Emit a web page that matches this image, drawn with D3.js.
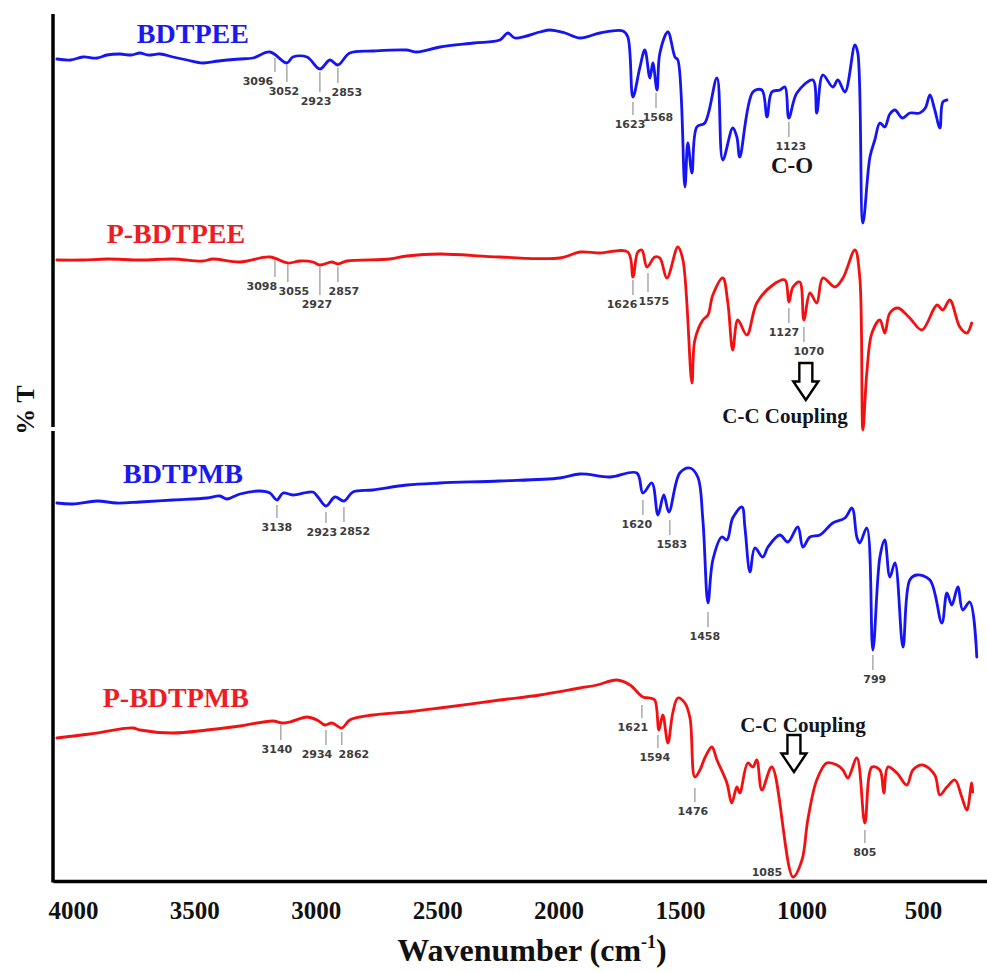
<!DOCTYPE html>
<html>
<head>
<meta charset="utf-8">
<script src="https://cdn.jsdelivr.net/npm/d3@7"></script>
<style>
body { margin: 0; background: #fff; }
#plot-area { width: 987px; height: 972px; }
.trace { fill: none; stroke-width: 2.8; stroke-linejoin: round; stroke-linecap: round; }
.peak-tick { stroke: #a9a9a9; stroke-width: 1.5; }
.peak-label { font-family: "DejaVu Sans", sans-serif; font-weight: bold; font-size: 11px; fill: #3d3d3d; text-anchor: middle; }
.name { font-family: "Liberation Serif", serif; font-weight: bold; font-size: 28px; text-anchor: middle; }
.note { font-family: "Liberation Serif", serif; font-weight: bold; fill: #141420; text-anchor: middle; }
.axis text { font-family: "Liberation Serif", serif; font-weight: bold; font-size: 25px; fill: #111; }
.axis path { stroke: #000; stroke-width: 3.5; }
.label { font-family: "Liberation Serif", serif; font-weight: bold; fill: #111; }
</style>
</head>
<body>
<div id="plot-area"></div>
<script>
// wavenumber ticks (cm-1)
const xTicks = [4000, 3500, 3000, 2500, 2000, 1500, 1000, 500];

const seriesNames = ["BDTPEE", "P-BDTPEE", "BDTPMB", "P-BDTPMB"];

// [wavenumber, %T (stacked, arbitrary offset)]
const bdtpee = [
    [4066, 82.1], [4010, 82.0], [3959, 82.3], [3900, 82.2], [3860, 82.5], [3806, 82.6], [3760, 82.5],
    [3724, 82.7], [3690, 82.5], [3640, 82.6], [3588, 82.3], [3530, 82.0], [3465, 81.7], [3400, 81.9],
    [3312, 82.1], [3259, 82.2], [3189, 82.8], [3119, 81.7], [3094, 82.3], [3036, 82.3], [2983, 81.1],
    [2942, 82.0], [2909, 81.5], [2860, 82.7], [2765, 82.9], [2625, 83.0], [2584, 82.8], [2489, 83.3],
    [2350, 83.7], [2242, 84.0], [2209, 84.7], [2180, 84.2], [2077, 84.8], [2036, 85.0], [1974, 84.7],
    [1912, 84.2], [1830, 84.7], [1735, 84.9], [1715, 84.3], [1694, 78.3], [1665, 81.3], [1645, 83.0],
    [1624, 80.2], [1612, 81.7], [1595, 79.0], [1583, 82.7], [1550, 84.8], [1521, 82.3], [1509, 82.0],
    [1480, 69.3], [1468, 73.7], [1451, 70.7], [1431, 75.3], [1398, 75.7], [1348, 80.2], [1324, 72.0],
    [1283, 75.2], [1266, 74.3], [1254, 72.3], [1200, 78.8], [1163, 79.0], [1142, 76.3], [1122, 78.8],
    [1089, 79.0], [1068, 79.3], [1052, 76.2], [1019, 78.7], [953, 80.0], [937, 76.7], [912, 80.5],
    [871, 79.3], [850, 80.0], [821, 78.8], [780, 83.5], [768, 82.7], [747, 65.7], [718, 72.3],
    [698, 74.0], [677, 75.7], [657, 75.3], [636, 76.6], [615, 77.0], [585, 76.2], [554, 76.7],
    [513, 76.7], [490, 77.2], [471, 78.5], [451, 77.0], [430, 75.2], [418, 77.8], [401, 78.0]
];

const pBdtpee = [
    [4066, 62.0], [3960, 62.0], [3860, 62.1], [3720, 62.0], [3588, 62.1], [3465, 61.9], [3424, 62.1],
    [3312, 61.8], [3189, 62.3], [3115, 61.7], [3065, 61.9], [3012, 61.8], [2983, 61.5], [2934, 61.8],
    [2909, 61.6], [2872, 61.9], [2695, 62.1], [2625, 62.4], [2489, 62.6], [2242, 62.3], [1995, 62.2],
    [1912, 62.8], [1830, 62.7], [1715, 62.8], [1694, 60.3], [1674, 62.8], [1657, 63.0], [1636, 61.3],
    [1604, 62.3], [1583, 62.2], [1554, 60.2], [1509, 63.3], [1488, 62.0], [1451, 49.7], [1439, 54.0],
    [1406, 56.0], [1385, 56.5], [1365, 58.5], [1324, 60.2], [1303, 57.7], [1283, 53.0], [1262, 56.0],
    [1225, 54.5], [1184, 57.7], [1118, 59.5], [1068, 60.0], [1052, 57.8], [1035, 59.3], [1007, 59.8],
    [990, 56.0], [965, 58.7], [937, 57.7], [912, 60.2], [862, 59.3], [829, 60.2], [780, 63.0],
    [760, 60.3], [747, 45.0], [731, 50.7], [710, 54.7], [677, 56.0], [657, 54.7], [636, 56.7],
    [603, 57.2], [554, 56.2], [504, 55.0], [442, 57.5], [418, 57.0], [389, 58.0], [348, 55.3],
    [319, 54.7], [299, 55.7]
];

const bdtpmb = [
    [4066, 37.7], [4000, 37.6], [3901, 37.9], [3820, 37.7], [3724, 37.8], [3588, 38.0], [3448, 38.2],
    [3395, 38.4], [3366, 38.1], [3312, 38.6], [3230, 38.9], [3189, 38.7], [3160, 38.0], [3135, 38.7],
    [3094, 38.5], [3012, 38.8], [2991, 38.3], [2958, 37.4], [2921, 38.3], [2884, 37.9], [2847, 38.8],
    [2765, 39.0], [2625, 39.5], [2489, 39.7], [2242, 39.9], [1995, 40.2], [1912, 40.6], [1789, 40.3],
    [1678, 40.7], [1653, 38.7], [1616, 39.7], [1591, 36.5], [1567, 38.5], [1546, 36.8], [1501, 40.7],
    [1459, 41.2], [1427, 40.3], [1406, 36.0], [1385, 27.7], [1365, 32.0], [1328, 34.3], [1307, 34.0],
    [1283, 36.2], [1245, 37.3], [1233, 35.3], [1212, 30.8], [1192, 33.2], [1159, 32.3], [1138, 33.3],
    [1089, 34.5], [1056, 33.8], [1015, 35.3], [994, 33.3], [965, 34.3], [924, 34.5], [871, 35.7],
    [821, 36.2], [792, 37.2], [772, 34.3], [760, 33.7], [731, 35.2], [706, 23.0], [677, 32.3],
    [657, 34.0], [636, 30.3], [615, 31.7], [582, 23.3], [554, 30.0], [525, 30.5], [471, 30.0],
    [422, 25.7], [401, 28.7], [381, 27.5], [356, 29.3], [336, 27.0], [307, 27.8], [278, 22.3]
];

const pBdtpmb = [
    [4066, 14.2], [3930, 14.6], [3753, 15.2], [3724, 15.0], [3588, 14.7], [3448, 15.0], [3312, 15.4],
    [3177, 15.9], [3139, 15.7], [3107, 15.8], [3036, 16.3], [2995, 16.0], [2962, 15.5], [2934, 15.7],
    [2893, 15.2], [2860, 16.0], [2765, 16.5], [2625, 16.8], [2489, 17.2], [2242, 18.0], [2077, 18.5],
    [1912, 19.2], [1842, 19.5], [1760, 20.0], [1706, 19.5], [1653, 18.3], [1624, 18.2], [1604, 18.0],
    [1587, 15.0], [1571, 16.5], [1550, 13.7], [1530, 16.7], [1509, 18.2], [1480, 17.7], [1459, 16.2],
    [1439, 10.3], [1418, 11.0], [1398, 12.2], [1369, 13.3], [1348, 12.0], [1307, 9.7], [1287, 7.7],
    [1266, 9.3], [1254, 8.7], [1221, 11.7], [1200, 11.3], [1184, 12.0], [1163, 9.0], [1122, 11.3],
    [1035, 0.3], [998, 2.0], [974, 6.0], [937, 10.0], [896, 11.7], [854, 11.5], [829, 11.0],
    [809, 10.2], [772, 12.2], [739, 5.7], [710, 11.3], [677, 11.0], [661, 8.7], [644, 11.3],
    [607, 10.7], [566, 9.5], [541, 11.0], [500, 11.5], [451, 10.5], [430, 8.5], [401, 9.3],
    [368, 10.0], [340, 8.3], [319, 7.0], [299, 9.7], [295, 8.8]
];

// peak marks: [label, tick wavenumber, label wavenumber, tick top, tick bottom]
const bdtpeePeaks = [
    ["3096", 3168, 3238, 82.2, 80.8], ["3052", 3119, 3131, 81.5, 79.8], ["2923", 2983, 2999, 80.8, 78.8],
    ["2853", 2909, 2872, 81.2, 79.7], ["1623", 1694, 1706, 77.8, 76.5], ["1568", 1599, 1591, 78.7, 77.2],
    ["1123", 1052, 1044, 75.8, 74.3]
];
const pBdtpeePeaks = [
    ["3098", 3168, 3222, 62.0, 60.3], ["3055", 3115, 3090, 61.5, 59.8], ["2927", 2983, 2995, 61.3, 58.5],
    ["2857", 2909, 2884, 61.3, 59.8], ["1626", 1694, 1739, 60.0, 58.5], ["1575", 1632, 1608, 60.7, 58.8],
    ["1127", 1052, 1072, 57.2, 55.7], ["1070", 990, 970, 55.3, 53.8]
];
const bdtpmbPeaks = [
    ["3138", 3160, 3160, 37.5, 36.2], ["2923", 2958, 2975, 36.8, 35.7], ["2852", 2884, 2839, 37.3, 35.8],
    ["1620", 1653, 1678, 38.0, 36.5], ["1583", 1542, 1534, 36.0, 34.5], ["1458", 1385, 1398, 26.8, 25.3],
    ["799", 706, 698, 22.5, 21.0]
];
const pBdtpmbPeaks = [
    ["3140", 3144, 3160, 15.5, 14.0], ["2934", 2958, 2995, 15.0, 13.5], ["2862", 2893, 2843, 14.8, 13.5],
    ["1621", 1657, 1694, 17.5, 16.2], ["1594", 1591, 1604, 14.5, 13.2], ["1476", 1439, 1447, 9.2, 7.8],
    ["1085", 1035, 1142, 1.7, 1.7], ["805", 739, 739, 5.0, 3.7]
];

// series name anchors [wavenumber, %T]
const nameAnchors = [[3506, 83.7], [3576, 63.7], [3547, 39.7], [3576, 17.3]];

// assignments: [text, wavenumber, %T baseline]
const notes = [["C-O", 1039, 70.7], ["C-C Coupling", 1068, 45.7], ["C-C Coupling", 994, 14.8]];
// hollow arrows: [wavenumber, top %T, tip %T]
const arrows = [[982, 51.7, 48.0], [1031, 14.5, 10.8]];

const colors = ["#1414f4", "#f41010", "#1414f4", "#f41010"];
const nameColors = ["#1a1af0", "#ee1c24", "#1a1af0", "#ee1c24"];
const noteSizes = [23, 21, 21];

const width = 987, height = 972;

var svg = d3.select("#plot-area").append("svg")
    .attr("width", width)
    .attr("height", height);

const x = d3.scaleLinear().domain([4082, 236]).range([53, 987]);
const y = d3.scaleLinear().domain([0, 86.6]).range([880, 14]);

const line = d3.line()
    .x(function(d) { return x(d[0]); })
    .y(function(d) { return y(d[1]); })
    .curve(d3.curveCatmullRom.alpha(0.5));

// spectra
const series = [bdtpee, pBdtpee, bdtpmb, pBdtpmb];
const peaks = [bdtpeePeaks, pBdtpeePeaks, bdtpmbPeaks, pBdtpmbPeaks];

series.forEach(function(data, i) {
    svg.append("path")
        .datum(data)
        .attr("class", "trace")
        .attr("d", line)
        .style("stroke", colors[i]);
});

// peak ticks and numbers
peaks.forEach(function(list) {
    let g = svg.append("g");
    list.forEach(function(p) {
        if (p[3] !== p[4]) {
            g.append("line")
                .attr("class", "peak-tick")
                .attr("x1", x(p[1])).attr("x2", x(p[1]))
                .attr("y1", y(p[3])).attr("y2", y(p[4]));
        }
        g.append("text")
            .attr("class", "peak-label")
            .attr("x", x(p[2]))
            .attr("y", y(p[4]) + 13)
            .text(p[0]);
    });
});

// series names
seriesNames.forEach(function(name, i) {
    svg.append("text")
        .attr("class", "name")
        .attr("x", x(nameAnchors[i][0]))
        .attr("y", y(nameAnchors[i][1]))
        .style("fill", nameColors[i])
        .text(name);
});

notes.forEach(function(n, i) {
    svg.append("text")
        .attr("class", "note")
        .attr("x", x(n[1]))
        .attr("y", y(n[2]))
        .style("font-size", noteSizes[i] + "px")
        .text(n[0]);
});

arrows.forEach(function(a) {
    let cx = x(a[0]), top = y(a[1]), tip = y(a[2]);
    let head = top + (tip - top) * 0.5;
    let p = d3.path();
    p.moveTo(cx - 6.5, top);
    p.lineTo(cx + 6.5, top);
    p.lineTo(cx + 6.5, head);
    p.lineTo(cx + 12.5, head);
    p.lineTo(cx, tip);
    p.lineTo(cx - 12.5, head);
    p.lineTo(cx - 6.5, head);
    p.closePath();
    svg.append("path")
        .attr("d", p.toString())
        .style("fill", "#fff")
        .style("stroke", "#000")
        .style("stroke-width", 2.4)
        .style("stroke-linejoin", "miter");
});

//Draw x-axis
let xAxis = d3.axisBottom(x)
    .tickValues(xTicks)
    .tickFormat(d3.format("d"))
    .tickSize(0)
    .tickSizeOuter(0)
    .tickPadding(20);
svg.append("g")
    .attr("class", "axis")
    .attr("transform", "translate(0,881)")
    .call(xAxis);

//Draw y-axis line (two pieces, the figure is a composite)
svg.append("line")
    .attr("x1", 53).attr("x2", 53)
    .attr("y1", y(86.6)).attr("y2", y(45.3))
    .style("stroke", "#000").style("stroke-width", 3.5);
svg.append("line")
    .attr("x1", 53).attr("x2", 53)
    .attr("y1", y(44.9)).attr("y2", 882.5)
    .style("stroke", "#000").style("stroke-width", 3.5);

let title = svg.append("text")
    .attr("class", "label")
    .attr("x", 532)
    .attr("y", 961)
    .style("font-size", "32px")
    .style("text-anchor", "middle");
title.append("tspan").text("Wavenumber (cm");
title.append("tspan").attr("dy", -13).style("font-size", "18px").text("-1");
title.append("tspan").attr("dy", 13).text(")");

svg.append("text")
    .attr("class", "label")
    .attr("transform", "translate(34,410) rotate(-90)")
    .style("font-size", "26px")
    .style("text-anchor", "middle")
    .text("% T");
</script>
</body>
</html>
